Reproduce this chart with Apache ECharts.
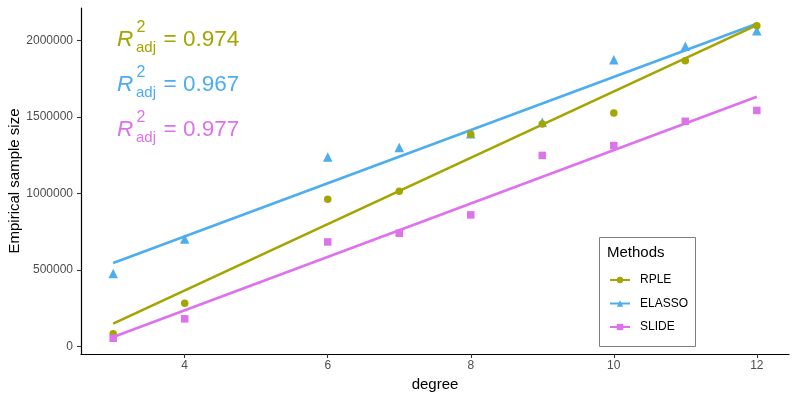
<!DOCTYPE html>
<html>
<head>
<meta charset="utf-8">
<script src="https://cdn.jsdelivr.net/npm/echarts@6/dist/echarts.min.js"></script>
<style>
html,body{margin:0;padding:0;background:#fff;}
#chart{width:797px;height:399px;}
</style>
</head>
<body>
<div id="chart"></div>
<script>
// ---- data ----
const degrees = [3, 4, 6, 7, 8, 9, 10, 11, 12];
const rple   = [81000, 281000, 961000, 1013000, 1386000, 1453000, 1525000, 1867000, 2096000];
const elasso = [475000, 702000, 1238000, 1300000, 1390000, 1465000, 1874000, 1961000, 2063000];
const slide  = [52000, 179000, 682000, 739000, 859000, 1248000, 1312000, 1471000, 1542000];
// fitted-line end points (x = 3 and x = 12)
const fitX = [3, 12];
const rpleFit   = [148000, 2100000];
const elassoFit = [545000, 2109000];
const slideFit  = [61000, 1632000];
const xTicks = [4, 6, 8, 10, 12];
const yTicks = [0, 500000, 1000000, 1500000, 2000000];
const methods = ['RPLE', 'ELASSO', 'SLIDE'];
const r2 = ['0.974', '0.967', '0.977'];

const colors = {RPLE: '#A3A500', ELASSO: '#4DADEF', SLIDE: '#DE71EC'};
const symbols = {RPLE: 'circle', ELASSO: 'triangle', SLIDE: 'rect'};
const symSize = {RPLE: 7.5, ELASSO: 9.5, SLIDE: 7.5};
const FONT = '"Liberation Sans", Arial, sans-serif';

const zip = (xs, ys) => xs.map((x, i) => [x, ys[i]]);
const pts = {RPLE: rple, ELASSO: elasso, SLIDE: slide};
const fits = {RPLE: rpleFit, ELASSO: elassoFit, SLIDE: slideFit};

const series = [];
['RPLE', 'ELASSO', 'SLIDE'].forEach(function (m) {
  series.push({
    name: m, type: 'line', data: zip(fitX, fits[m]),
    symbol: symbols[m], symbolSize: symSize[m], showSymbol: false,
    lineStyle: {color: colors[m], width: 2.7},
    itemStyle: {color: colors[m]},
    z: m === 'ELASSO' ? 2 : 3, silent: true, animation: false
  });
});
['ELASSO', 'RPLE', 'SLIDE'].forEach(function (m, k) {
  series.push({
    name: m, type: 'scatter', data: zip(degrees, pts[m]),
    symbol: symbols[m], symbolSize: symSize[m],
    itemStyle: {color: colors[m], opacity: 1},
    z: 5 + k, animation: false
  });
});

const graphics = [];
const rowY = [40, 84.7, 129.5];
methods.forEach(function (m, i) {
  const c = colors[m];
  const y = rowY[i];
  graphics.push({type: 'text', x: 117, y: y, style: {text: 'R', font: 'italic 22.5px ' + FONT, fill: c, textVerticalAlign: 'middle', verticalAlign: 'middle'}});
  graphics.push({type: 'text', x: 136.5, y: y - 12.3, style: {text: '2', font: '16px ' + FONT, fill: c, textVerticalAlign: 'middle', verticalAlign: 'middle'}});
  graphics.push({type: 'text', x: 136, y: y + 8.3, style: {text: 'adj', font: '15px ' + FONT, fill: c, textVerticalAlign: 'middle', verticalAlign: 'middle'}});
  graphics.push({type: 'text', x: 163.5, y: y, style: {text: '= ' + r2[i], font: '22.5px ' + FONT, fill: c, textVerticalAlign: 'middle', verticalAlign: 'middle'}});
});
graphics.push({type: 'rect', shape: {x: 599.5, y: 237.5, width: 96, height: 109}, style: {fill: '#fff', stroke: '#7F7F7F', lineWidth: 1}, z: 0});
graphics.push({type: 'text', x: 607, y: 253, style: {text: 'Methods', font: '15px ' + FONT, fill: '#000', textVerticalAlign: 'middle', verticalAlign: 'middle'}, z: 1});

const chart = echarts.init(document.getElementById('chart'), null, {renderer: 'canvas'});
chart.setOption({
  animation: false,
  backgroundColor: '#fff',
  grid: {left: 81, top: 8, width: 708, height: 346, containLabel: false, outerBoundsMode: 'none'},
  xAxis: {
    type: 'value', min: 2.55, max: 12.45,
    name: 'degree', nameLocation: 'middle', nameGap: 21,
    nameTextStyle: {fontFamily: FONT, fontSize: 15, color: '#000'},
    axisLine: {show: true, onZero: false, lineStyle: {color: '#000', width: 1.2}},
    axisTick: {show: true, length: 4, lineStyle: {color: '#333', width: 1.1}, customValues: xTicks},
    axisLabel: {customValues: xTicks, margin: 6, fontFamily: FONT, fontSize: 12, color: '#4D4D4D'},
    splitLine: {show: false}
  },
  yAxis: {
    type: 'value', min: -50800, max: 2211900,
    name: 'Empirical sample size', nameLocation: 'middle', nameGap: 59, nameMoveOverlap: false,
    nameTextStyle: {fontFamily: FONT, fontSize: 15, color: '#000'},
    axisLine: {show: true, onZero: false, lineStyle: {color: '#000', width: 1.2}},
    axisTick: {show: true, length: 4, lineStyle: {color: '#333', width: 1.1}, customValues: yTicks},
    axisLabel: {customValues: yTicks, margin: 8, fontFamily: FONT, fontSize: 12, color: '#4D4D4D',
      formatter: function (v) { return String(Math.round(v)); }},
    splitLine: {show: false}
  },
  legend: {
    orient: 'vertical', left: 609, top: 274, padding: 0,
    data: methods, itemWidth: 20, itemHeight: 8, itemGap: 11.5,
    textStyle: {fontFamily: FONT, fontSize: 12, lineHeight: 12, color: '#000', padding: [0, 0, 0, 5]},
    selectedMode: false, z: 10
  },
  graphic: graphics,
  series: series
});
</script>
</body>
</html>
